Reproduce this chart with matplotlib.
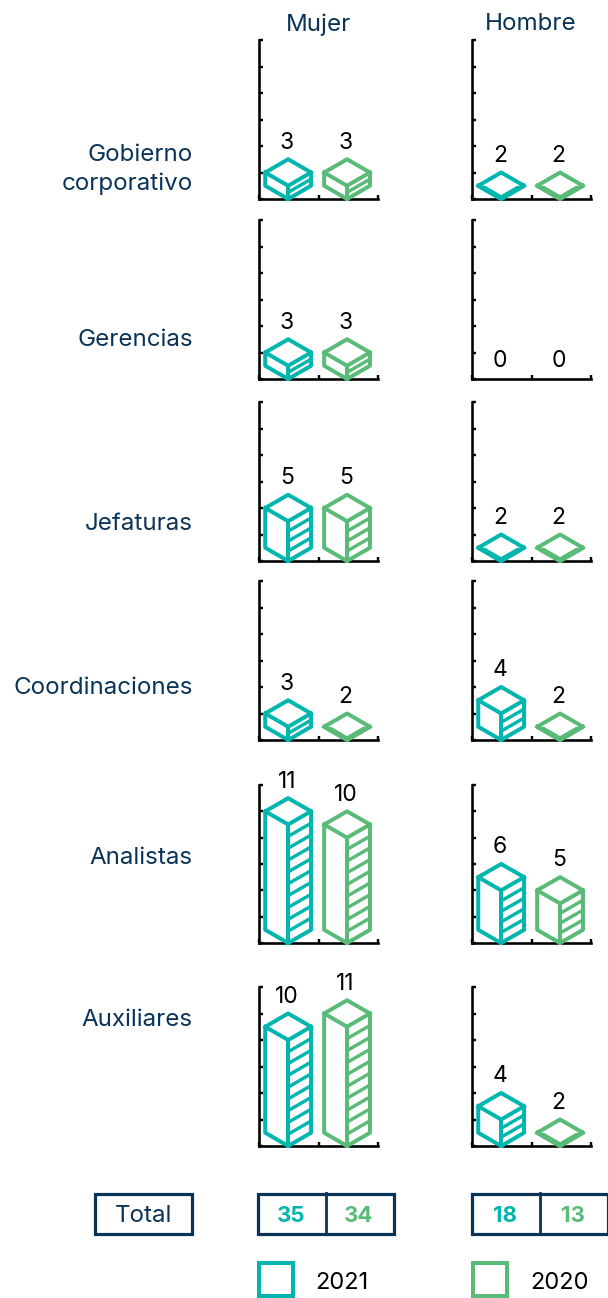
import matplotlib
matplotlib.use("Agg")
import matplotlib.pyplot as plt
from matplotlib.patches import Polygon, Rectangle

# DATA

categories = ["Gobierno\ncorporativo", "Gerencias", "Jefaturas", "Coordinaciones", "Analistas", "Auxiliares"]
mujer_2021 = [3, 3, 5, 3, 11, 10]
mujer_2020 = [3, 3, 5, 2, 10, 11]
hombre_2021 = [2, 0, 2, 4, 6, 4]
hombre_2020 = [2, 0, 2, 2, 5, 2]
total_mujer = [35, 34]
total_hombre = [18, 13]
years = ["2021", "2020"]

TEAL = "#00b6ae"
GREEN = "#5abb78"
NAVY = "#0a3358"
W, H = 608, 1298
FONT = "Inter"

plt.rcParams["font.family"] = FONT

# pixel rows of each panel: (top, bottom)
rows = [(40, 199), (220, 379), (402, 561), (581, 740), (785, 943), (987, 1146)]
label_y = [169.5, 340.5, 523.5, 688.5, 857.5, 1020.5]
col_x = [(259, 378), (472, 591)]


def px(v):
    return v * 0.72


def draw_bar(ax, xc, v, color):
    # isometric box, the top diamond is 2 units high
    if v == 0:
        ax.annotate("0", (xc, 0), xytext=(-1, 13), textcoords="offset points", ha="center", va="center",
                    fontsize=16.5, color="black")
        return
    hw = 0.385
    outline = [(xc - hw, v - 1), (xc, v), (xc + hw, v - 1), (xc + hw, 1), (xc, 0), (xc - hw, 1)]
    ax.add_patch(Polygon(outline, closed=True, facecolor="white", edgecolor=color, lw=px(4),
                         joinstyle="round", clip_on=False, zorder=3))
    # inner edges of the box
    ax.plot([xc - hw, xc, xc + hw], [v - 1, v - 2, v - 1], color=color, lw=px(4), clip_on=False, zorder=4,
            solid_joinstyle="round")
    ax.plot([xc, xc], [v - 2, 0], color=color, lw=px(4), clip_on=False, zorder=4)
    if v == 2:
        # flat boxes show a heavier lower edge, drawn as an even chevron
        ax.add_patch(Polygon([(xc - hw, 1), (xc, 0), (xc + hw, 1), (xc + 0.7 * hw, 1), (xc, 0.3), (xc - 0.7 * hw, 1)],
                             closed=True, facecolor=color, edgecolor="none", clip_on=False, zorder=4))
    # stripes on the right face
    for k in range(1, v - 1):
        y0 = k * (v - 2) / (v - 1)
        ax.plot([xc, xc + hw], [y0, y0 + 1], color=color, lw=px(3.4), clip_on=False, zorder=4,
                solid_capstyle="butt")
    ax.annotate(str(v), (xc, v), xytext=(-1, 12), textcoords="offset points", ha="center", va="center",
                fontsize=16.5, color="black")


fig = plt.figure(figsize=(W / 100, H / 100), dpi=100)

# overlay in pixel coordinates for the labels, totals and legend
bg = fig.add_axes([0, 0, 1, 1])
bg.set_xlim(0, W)
bg.set_ylim(H, 0)
bg.axis("off")

for (top, bottom), name, ly, i in zip(rows, categories, label_y, range(len(rows))):
    bg.text(193, ly, name, ha="right", va="center", fontsize=17.4, color=NAVY, linespacing=1.42)
    for (x0, x1), vals in zip(col_x, [(mujer_2021[i], mujer_2020[i]), (hombre_2021[i], hombre_2020[i])]):
        ax = fig.add_axes([x0 / W, 1 - bottom / H, (x1 - x0) / W, (bottom - top) / H])
        ax.patch.set_alpha(0)
        ax.set_xlim(0, 2)
        ax.set_ylim(0, 12)
        ax.spines["top"].set_visible(False)
        ax.spines["right"].set_visible(False)
        ax.spines["left"].set_linewidth(px(2.6))
        ax.spines["bottom"].set_linewidth(px(2.6))
        ax.set_xticks([0, 1, 2])
        ax.set_yticks(range(0, 13, 2))
        ax.tick_params(direction="in", length=px(4), width=px(2.4), labelleft=False, labelbottom=False)
        draw_bar(ax, 0.49, vals[0], TEAL)
        draw_bar(ax, 1.48, vals[1], GREEN)

bg.text(318, 24.5, "Mujer", ha="center", va="center", fontsize=17.4, color=NAVY)
bg.text(531, 24.5, "Hombre", ha="center", va="center", fontsize=17.4, color=NAVY)

# totals row
bg.add_patch(Rectangle((95, 1194), 97, 40, facecolor="white", edgecolor=NAVY, lw=px(3.2)))
bg.text(143.5, 1216, "Total", ha="center", va="center", fontsize=17.4, color=NAVY)
for x0, vals in zip([258, 472], [total_mujer, total_hombre]):
    bg.add_patch(Rectangle((x0, 1194), 136, 40, facecolor="white", edgecolor=NAVY, lw=px(3.2), clip_on=True))
    bg.plot([x0 + 68, x0 + 68], [1193, 1234], color=NAVY, lw=px(2.8))
    bg.text(x0 + 33, 1216, str(vals[0]), ha="center", va="center", fontsize=16, fontweight="bold", color=TEAL)
    bg.text(x0 + 101, 1216, str(vals[1]), ha="center", va="center", fontsize=16, fontweight="bold", color=GREEN)

# legend
for x0, tx, year, color in zip([258, 472], [315, 530], years, [TEAL, GREEN]):
    bg.add_patch(Rectangle((x0 + 1, 1263), 34, 33, facecolor="white", edgecolor=color, lw=px(4)))
    bg.text(tx, 1283, year, ha="left", va="center", fontsize=17, color="black")

plt.savefig("out.png", dpi=100)
plt.close()
